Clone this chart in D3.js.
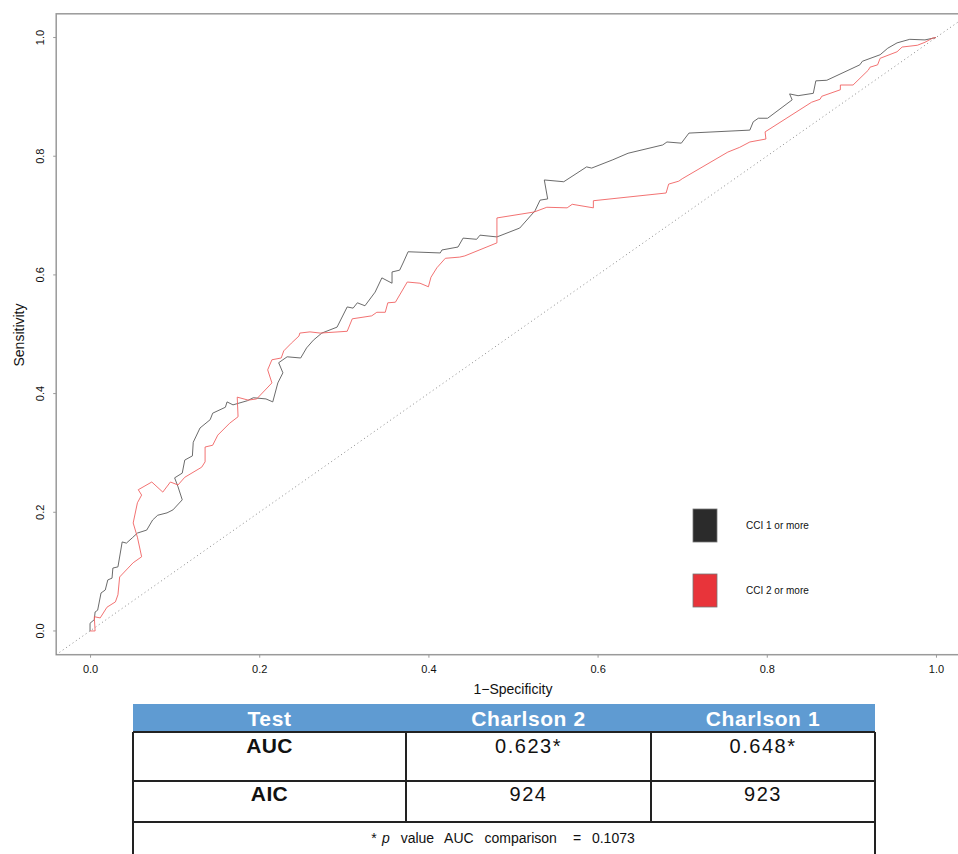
<!DOCTYPE html>
<html>
<head>
<meta charset="utf-8">
<script src="https://cdn.jsdelivr.net/npm/d3@7"></script>
<style>
  html, body { margin: 0; padding: 0; background: #fff; }
  svg { display: block; font-family: "Liberation Sans", Arial, Helvetica, sans-serif; }
</style>
</head>
<body>
<svg id="chart" width="958" height="854"></svg>
<script>
// ---- Data ----
const cci1Fpr = [0,0,0.005,0.006,0.009,0.013,0.018,0.021,0.026,0.027,0.033,0.038,0.043,0.050,0.056,0.067,0.074,0.080,0.091,0.098,0.109,0.104,0.100,0.109,0.112,0.121,0.122,0.130,0.142,0.145,0.160,0.162,0.169,0.186,0.193,0.208,0.216,0.222,0.228,0.223,0.233,0.249,0.256,0.264,0.274,0.292,0.304,0.311,0.316,0.325,0.337,0.345,0.357,0.357,0.366,0.370,0.376,0.414,0.416,0.435,0.441,0.457,0.461,0.481,0.508,0.526,0.532,0.541,0.537,0.560,0.587,0.593,0.618,0.636,0.677,0.682,0.699,0.708,0.780,0.784,0.790,0.801,0.830,0.827,0.837,0.855,0.858,0.871,0.910,0.913,0.934,0.943,0.954,0.969,0.987,1.0];
const cci1Tpr = [0,0.013,0.019,0.032,0.035,0.064,0.069,0.086,0.089,0.106,0.108,0.150,0.148,0.157,0.165,0.170,0.187,0.195,0.199,0.204,0.221,0.243,0.258,0.266,0.288,0.295,0.318,0.342,0.356,0.367,0.377,0.386,0.381,0.388,0.393,0.391,0.386,0.418,0.435,0.452,0.462,0.460,0.477,0.490,0.502,0.512,0.546,0.544,0.553,0.548,0.571,0.595,0.586,0.605,0.608,0.620,0.639,0.637,0.642,0.647,0.662,0.660,0.667,0.664,0.679,0.708,0.726,0.728,0.760,0.757,0.782,0.780,0.794,0.805,0.819,0.824,0.822,0.839,0.844,0.858,0.864,0.864,0.895,0.905,0.902,0.906,0.927,0.928,0.954,0.960,0.971,0.982,0.991,0.997,0.996,1.0];

const cci2Fpr = [0,0.006,0.005,0.012,0.020,0.030,0.033,0.035,0.045,0.051,0.061,0.056,0.051,0.056,0.061,0.057,0.073,0.086,0.095,0.104,0.112,0.132,0.136,0.136,0.145,0.151,0.165,0.175,0.174,0.187,0.197,0.207,0.215,0.210,0.215,0.226,0.229,0.238,0.247,0.248,0.260,0.272,0.304,0.310,0.333,0.339,0.349,0.352,0.361,0.375,0.390,0.400,0.403,0.410,0.420,0.437,0.443,0.481,0.481,0.525,0.540,0.564,0.570,0.595,0.595,0.681,0.684,0.696,0.700,0.754,0.768,0.780,0.799,0.798,0.853,0.863,0.865,0.887,0.887,0.902,0.920,0.922,0.931,0.934,0.954,0.960,0.978,0.987,0.996,1.0];
const cci2Tpr = [0,0,0.024,0.022,0.040,0.049,0.061,0.091,0.106,0.115,0.125,0.158,0.182,0.216,0.229,0.238,0.251,0.234,0.251,0.246,0.259,0.276,0.285,0.310,0.313,0.330,0.350,0.361,0.394,0.389,0.391,0.406,0.418,0.440,0.457,0.460,0.472,0.485,0.497,0.502,0.504,0.502,0.505,0.526,0.531,0.537,0.537,0.553,0.554,0.588,0.586,0.580,0.596,0.612,0.628,0.630,0.632,0.654,0.696,0.706,0.714,0.713,0.719,0.713,0.725,0.738,0.753,0.758,0.762,0.807,0.815,0.824,0.829,0.841,0.891,0.896,0.901,0.912,0.920,0.920,0.945,0.950,0.954,0.965,0.976,0.984,0.987,0.992,0.999,1.0];

const xTicks = [0, 0.2, 0.4, 0.6, 0.8, 1.0];
const yTicks = [0, 0.2, 0.4, 0.6, 0.8, 1.0];
const seriesNames = ["CCI 1 or more", "CCI 2 or more"];
const seriesColors = ["#2b2b2b", "#e8343a"];
const lineColors = ["#5a5a5a", "#f06262"];

const tableHeader = ["Test", "Charlson 2", "Charlson 1"];
const tableRowLabels = ["AUC", "AIC"];
const charlson2Values = ["0.623*", "924"];
const charlson1Values = ["0.648*", "923"];
const pValueText = "0.1073";

// ---- Scales ----
const svg = d3.select("#chart");
const x = d3.scaleLinear().domain([-0.04, 1.04]).range([56.2, 969.8]);
const y = d3.scaleLinear().domain([-0.04, 1.04]).range([654.7, 13.8]);

const frameColor = "#9a9a9a";

const g = svg.append("g");
g.append("rect")
  .attr("x", x(-0.04)).attr("y", y(1.04))
  .attr("width", x(1.04) - x(-0.04)).attr("height", y(-0.04) - y(1.04))
  .attr("fill", "none").attr("stroke", frameColor).attr("stroke-width", 1.5);

// Axes
const xAxis = d3.axisBottom(x).tickValues(xTicks).tickFormat(d3.format(".1f")).tickSize(3).tickPadding(6);
const yAxis = d3.axisLeft(y).tickValues(yTicks).tickFormat(d3.format(".1f")).tickSize(3).tickPadding(6);

const gx = g.append("g").attr("transform", `translate(0,${y(-0.04)})`).call(xAxis);
gx.select(".domain").remove();
gx.selectAll("line").attr("stroke", frameColor);
gx.selectAll("text").attr("font-size", 11).attr("fill", "#111").attr("font-family", "Liberation Sans, Arial, sans-serif").attr("dy", "0.85em");

const gy = g.append("g").attr("transform", `translate(${x(-0.04)},0)`).call(yAxis);
gy.select(".domain").remove();
gy.selectAll("line").attr("stroke", frameColor);
gy.selectAll("text")
  .attr("font-size", 11).attr("fill", "#111").attr("font-family", "Liberation Sans, Arial, sans-serif")
  .attr("text-anchor", "middle")
  .attr("x", null).attr("dy", null)
  .attr("transform", d => `translate(-12,${y(d)}) rotate(-90)`)
  .attr("y", 0);
gy.selectAll(".tick").attr("transform", null);
gy.selectAll(".tick line").attr("transform", d => `translate(0,${y(d)})`);

// Axis titles
g.append("text").attr("x", 513).attr("y", 694).attr("text-anchor", "middle")
  .attr("font-size", 14).attr("fill", "#111").text("1\u2212Specificity");
g.append("text").attr("transform", "translate(24,335) rotate(-90)").attr("text-anchor", "middle")
  .attr("font-size", 14).attr("fill", "#111").text("Sensitivity");

// Diagonal reference line
g.append("line")
  .attr("x1", x(-0.04)).attr("y1", y(-0.04)).attr("x2", x(1.04)).attr("y2", y(1.04))
  .attr("stroke", "#8a8a8a").attr("stroke-width", 1).attr("stroke-dasharray", "1,3");

// ROC curves
const line = d3.line().x(d => x(d[0])).y(d => y(d[1]));
const series = [
  d3.zip(cci1Fpr, cci1Tpr),
  d3.zip(cci2Fpr, cci2Tpr)
];
g.selectAll("path.roc").data(series).join("path")
  .attr("class", "roc")
  .attr("d", line)
  .attr("fill", "none")
  .attr("stroke", (d, i) => lineColors[i])
  .attr("stroke-width", 0.9)
  .attr("stroke-linejoin", "round");

// Legend
const legend = g.append("g");
seriesNames.forEach((name, i) => {
  const ly = 509 + i * 65;
  legend.append("rect").attr("x", 693).attr("y", ly).attr("width", 24).attr("height", 33)
    .attr("fill", seriesColors[i]).attr("stroke", "#777").attr("stroke-width", 0.8);
  legend.append("text").attr("x", 746).attr("y", ly + 20).attr("font-size", 10).attr("fill", "#111").text(name);
});

// ---- Table ----
const t = svg.append("g");
const colEdges = [133, 406, 651, 875];
const headTop = 704, headBot = 732;
const rowEdges = [732, 781, 822];
t.append("rect").attr("x", colEdges[0]).attr("y", headTop).attr("width", colEdges[3] - colEdges[0]).attr("height", headBot - headTop)
  .attr("fill", "#5f9bd2");
tableHeader.forEach((h, i) => {
  t.append("text").attr("x", (colEdges[i] + colEdges[i + 1]) / 2).attr("y", 726)
    .attr("text-anchor", "middle").attr("font-size", 21).attr("letter-spacing", 0.6)
    .attr("font-weight", "bold").attr("fill", "#fff").text(h);
});
const bc = "#222";
rowEdges.forEach(ry => {
  t.append("line").attr("x1", colEdges[0]).attr("x2", colEdges[3]).attr("y1", ry).attr("y2", ry).attr("stroke", bc).attr("stroke-width", 2);
});
[colEdges[1], colEdges[2]].forEach(cx => {
  t.append("line").attr("x1", cx).attr("x2", cx).attr("y1", 732).attr("y2", 822).attr("stroke", bc).attr("stroke-width", 2);
});
[colEdges[0], colEdges[3]].forEach(cx => {
  t.append("line").attr("x1", cx).attr("x2", cx).attr("y1", 732).attr("y2", 860).attr("stroke", bc).attr("stroke-width", 2);
});
const baselines = [753, 801];
tableRowLabels.forEach((lab, r) => {
  t.append("text").attr("x", (colEdges[0] + colEdges[1]) / 2).attr("y", baselines[r])
    .attr("text-anchor", "middle").attr("font-size", 21).attr("letter-spacing", 0.4).attr("font-weight", "bold").attr("fill", "#111").text(lab);
  t.append("text").attr("x", (colEdges[1] + colEdges[2]) / 2).attr("y", baselines[r])
    .attr("text-anchor", "middle").attr("font-size", 20).attr("letter-spacing", 1.5).attr("fill", "#111").text(charlson2Values[r]);
  t.append("text").attr("x", (colEdges[2] + colEdges[3]) / 2).attr("y", baselines[r])
    .attr("text-anchor", "middle").attr("font-size", 20).attr("letter-spacing", 1.5).attr("fill", "#111").text(charlson1Values[r]);
});
const fn = t.append("text").attr("x", 503).attr("y", 843).attr("text-anchor", "middle")
  .attr("font-size", 14).attr("word-spacing", 1.5).attr("fill", "#111").style("white-space", "pre");
fn.append("tspan").text("* ");
fn.append("tspan").attr("font-style", "italic").text("p");
fn.append("tspan").text("  value  AUC  comparison   =  " + pValueText);
</script>
</body>
</html>
